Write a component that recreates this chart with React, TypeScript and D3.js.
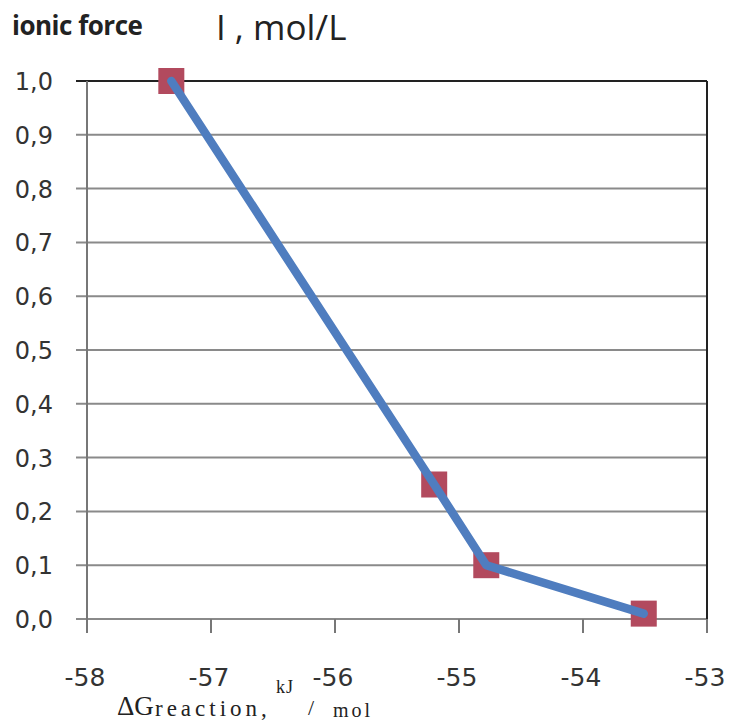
import React from "react";
import * as d3 from "d3";

const xValues = [-57.32, -55.2, -54.78, -53.51];
const yValues = [1.0, 0.25, 0.1, 0.01];
const xTicks = [-58, -57, -56, -55, -54, -53];
const yTicks = [0, 0.1, 0.2, 0.3, 0.4, 0.5, 0.6, 0.7, 0.8, 0.9, 1.0];

export default function App() {
  const W = 744, H = 723;
  const left = 87, right = 707, top = 81, bottom = 619;
  const x = d3.scaleLinear().domain([-58, -53]).range([left, right]);
  const y = d3.scaleLinear().domain([0, 1]).range([bottom, top]);
  const pts = xValues.map((v, i) => [x(v), y(yValues[i])] as [number, number]);
  const line = d3.line()(pts) || "";
  const fmt = (v: number) => v.toFixed(1).replace(".", ",");
  const ms = 26;
  const tickFont = "'DejaVu Sans', Verdana, sans-serif";
  return (
    <svg width={W} height={H} style={{ position: "absolute", left: 0, top: 0, background: "#fff" }}
      fontFamily="'Open Sans', 'Liberation Sans', sans-serif">
      <rect width={W} height={H} fill="#fff" />
      <text x={12} y={35} fontSize={26} fontWeight="bold" fill="#222" letterSpacing={-0.5}>ionic force</text>
      <text x={216} y={40} fontSize={35} fill="#222">I , mol/L</text>
      {yTicks.map((t) => (
        <g key={t}>
          <line x1={left - 11} x2={right} y1={y(t)} y2={y(t)}
            stroke={t === 1 ? "#222" : "#8a8a8a"} strokeWidth={2} />
          <text x={53} y={y(t) + 9} fontSize={24} textAnchor="end" fill="#333" fontFamily={tickFont}>{fmt(t)}</text>
        </g>
      ))}
      <line x1={left} x2={left} y1={top} y2={bottom + 14} stroke="#777" strokeWidth={2} />
      <line x1={right} x2={right} y1={top} y2={bottom + 14} stroke="#222" strokeWidth={2} />
      {xTicks.map((t) => (
        <g key={t}>
          <line x1={x(t)} x2={x(t)} y1={bottom} y2={bottom + 14} stroke="#777" strokeWidth={2} />
          <text x={x(t) - 2} y={686} fontSize={25} textAnchor="middle" fill="#333" fontFamily={tickFont}>{t}</text>
        </g>
      ))}
      {pts.map((p, i) => (
        <rect key={i} x={p[0] - ms / 2} y={p[1] - ms / 2} width={ms} height={ms} fill="#B24A5E" />
      ))}
      <path d={line} fill="none" stroke="#4F7DBF" strokeWidth={8.5} strokeLinejoin="round" strokeLinecap="round" />
      <g fontFamily="'Liberation Serif', 'DejaVu Serif', serif" fill="#222">
        <text x={117} y={715} fontSize={27}>ΔG</text>
        <text x={155} y={716} fontSize={23} letterSpacing={4}>reaction,</text>
        <text x={276} y={693} fontSize={18} letterSpacing={1}>kJ</text>
        <text x={308} y={715} fontSize={22}>/</text>
        <text x={333} y={717} fontSize={20} letterSpacing={3}>mol</text>
      </g>
    </svg>
  );
}
